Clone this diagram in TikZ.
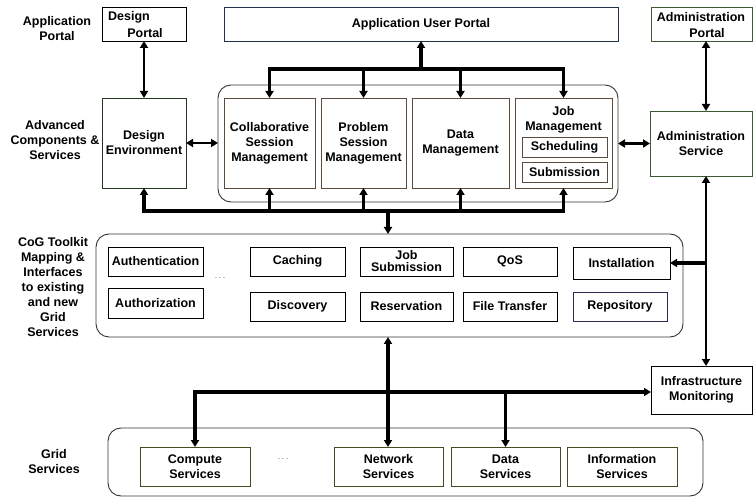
\documentclass[tikz,border=0pt]{standalone}
\usepackage{fontspec}
\setmainfont{Liberation Sans}
\usepackage{xcolor}
\usetikzlibrary{positioning}
\usetikzlibrary{calc}
\usetikzlibrary{arrows.meta}
\definecolor{brownline}{HTML}{5C4A3A}
\definecolor{greenline}{HTML}{3A5A34}
\definecolor{oliveline}{HTML}{4A4A22}
\definecolor{navyline}{HTML}{22304A}
\tikzset{box/.style={draw, line width=0.9pt, align=center, inner sep=0pt, outer sep=0pt, font=\bfseries\fontsize{12.5}{15}\selectfont}}
\tikzset{group/.style={draw=black!80, line width=0.9pt, rounded corners=13pt, inner sep=0pt, outer sep=0pt}}
\tikzset{layer/.style={align=center, inner sep=0pt, font=\bfseries\fontsize{12.5}{15}\selectfont}}
\tikzset{bus/.style={line width=3.2pt, -{Triangle[width=8pt,length=7pt]}}}
\tikzset{bibus/.style={line width=2.7pt, {Triangle[width=8pt,length=7pt]}-{Triangle[width=8pt,length=7pt]}}}
\tikzset{gap/.style={text=black!60, font=\fontsize{9}{9}\selectfont}}

\begin{document}
\begin{tikzpicture}[x=1pt, y=-1pt]
\useasboundingbox (0,0) rectangle (753,497);

% layer names
\node[layer] (l1) at (57,29) {Application\\Portal};
\node[layer] (l2) at (55,140) {Advanced\\Components \&\\Services};
\node[layer] (l3) at (53,287) {CoG Toolkit\\Mapping \&\\Interfaces\\to existing\\and new\\Grid\\Services};
\node[layer] (l4) at (54,461.5) {Grid\\Services};

% portals
\node[box, minimum width=84pt, minimum height=34pt] (dportal) at (144,24) {};
\node[layer] (dportal1) at (129,17) {Design};
\node[layer, fill=white, inner xsep=1pt, minimum height=17pt] (dportal2) at (145,33) {Portal};
\node[box, draw=navyline, minimum width=394pt, minimum height=34pt] (uportal) at (421,24) {Application User Portal};
\node[box, draw=greenline, minimum width=101pt, minimum height=34pt] (aportal) at (701.5,24) {};
\node[layer] (aportal1) at (701,17) {Administration};
\node[layer, fill=white, inner xsep=1pt, minimum height=17pt] (aportal2) at (707,33) {Portal};

% advanced components
\node[box, draw=greenline!60!black, minimum width=84pt, minimum height=90pt] (denv) at (144,143) {Design\\Environment};
\node[group, minimum width=400pt, minimum height=117pt] (adv) at (418,143.5) {};
\node[box, draw=brownline, minimum width=91pt, minimum height=90pt] (collab) at (269.5,143) {Collaborative\\Session\\Management};
\node[box, draw=brownline, minimum width=85pt, minimum height=90pt] (problem) at (363.5,143) {Problem\\Session\\Management};
\node[box, draw=brownline, minimum width=97pt, minimum height=90pt] (datam) at (460.5,143) {Data\\Management};
\node[box, draw=brownline, minimum width=97pt, minimum height=90pt] (jobm) at (563.5,143) {};
\node[layer] (jobtxt) at ([yshift=-22pt]jobm.north) {Job\\Management};
\node[box, draw=brownline, minimum width=85pt, minimum height=20pt] (sched) at (564.5,147) {Scheduling};
\node[box, draw=brownline, minimum width=85pt, minimum height=20pt] (submit) at (564.5,172) {Submission};
\node[box, draw=greenline, minimum width=102pt, minimum height=65pt] (asrv) at (701,143.5) {Administration\\Service};

% cog toolkit
\node[group, minimum width=587pt, minimum height=103pt] (cog) at (389.5,285.5) {};
\node[box, minimum width=95pt, minimum height=29pt] (auth) at (155.5,261.5) {Authentication};
\node[box, minimum width=95pt, minimum height=30pt] (authz) at (155.5,303) {Authorization};
\node[gap] (dots1) at (220,278) {.\,.\,.};
\node[box, minimum width=95pt, minimum height=29pt] (cach) at (297.5,261.5) {Caching};
\node[box, minimum width=95pt, minimum height=29pt] (disc) at (297.5,306.5) {Discovery};
\node[box, minimum width=93pt, minimum height=29pt, font=\bfseries\fontsize{12.5}{12}\selectfont] (jsub) at (406.5,261.5) {Job\\Submission};
\node[box, minimum width=93pt, minimum height=29pt] (resv) at (406.5,306.5) {Reservation};
\node[box, minimum width=94pt, minimum height=29pt] (qos) at (510,261.5) {QoS};
\node[box, minimum width=94pt, minimum height=29pt] (ftr) at (510,306.5) {File Transfer};
\node[box, minimum width=97pt, minimum height=32pt] (inst) at (621.5,263) {Installation};
\node[box, draw=navyline!80!violet, minimum width=94pt, minimum height=29pt] (repo) at (620,306.5) {Repository};
\node[box, minimum width=101pt, minimum height=48pt] (imon) at (701.5,390) {Infrastructure\\Monitoring};

% grid services
\node[group, minimum width=595pt, minimum height=68pt] (grid) at (405.5,462) {};
\node[box, draw=oliveline, minimum width=110pt, minimum height=39pt] (comp) at (195,466.5) {Compute\\Services};
\node[gap] (dots2) at (283,459) {.\,.\,.};
\node[box, draw=oliveline, minimum width=109pt, minimum height=39pt] (net) at (388.5,466.5) {Network\\Services};
\node[box, draw=oliveline, minimum width=109pt, minimum height=39pt] (dsrv) at (505.5,466.5) {Data\\Services};
\node[box, draw=oliveline, minimum width=110pt, minimum height=39pt] (info) at (622,466.5) {Information\\Services};

% bus points
\coordinate (tb) at (421,69);
\coordinate (bb) at (388,211);
\coordinate (rv) at (706,263);
\coordinate (gb) at (388,392);

\draw[bibus] (dportal) -- (denv);
\draw[bibus] (denv.east) -- (denv.east -| adv.west);
\draw[bibus] (asrv.west) -- (asrv.west -| adv.east);
\draw[bibus] (aportal.south -| rv) -- (asrv.north -| rv);
\draw[bibus] (asrv.south -| rv) -- (imon.north -| rv);
\draw[bus] (rv) -- (inst.east |- rv);

\draw[bus, line width=4pt] (tb) -- (uportal.south -| tb);
\draw[bus] (jobm.north |- tb) -| (collab.north);
\draw[bus] (collab.north |- tb) -| (jobm.north);
\foreach \n in {problem,datam}
  \draw[bus] (\n.north |- tb) -- (\n.north);

\draw[bus] (jobm.south |- bb) -| (denv.south);
\draw[bus] (denv.south |- bb) -| (jobm.south);
\foreach \n in {collab,problem,datam}
  \draw[bus] (\n.south |- bb) -- (\n.south);
\draw[bus] (bb) -- (cog.north -| bb);

\draw[bibus, line width=3.2pt] (cog.south -| gb) -- (net.north -| gb);
\draw[bus, {Triangle[width=8pt,length=7pt]}-{Triangle[width=8pt,length=7pt]}] (comp.north) |- (imon.west |- gb);
\draw[bus] (dsrv.north |- gb) -- (dsrv.north);
\end{tikzpicture}
\end{document}
